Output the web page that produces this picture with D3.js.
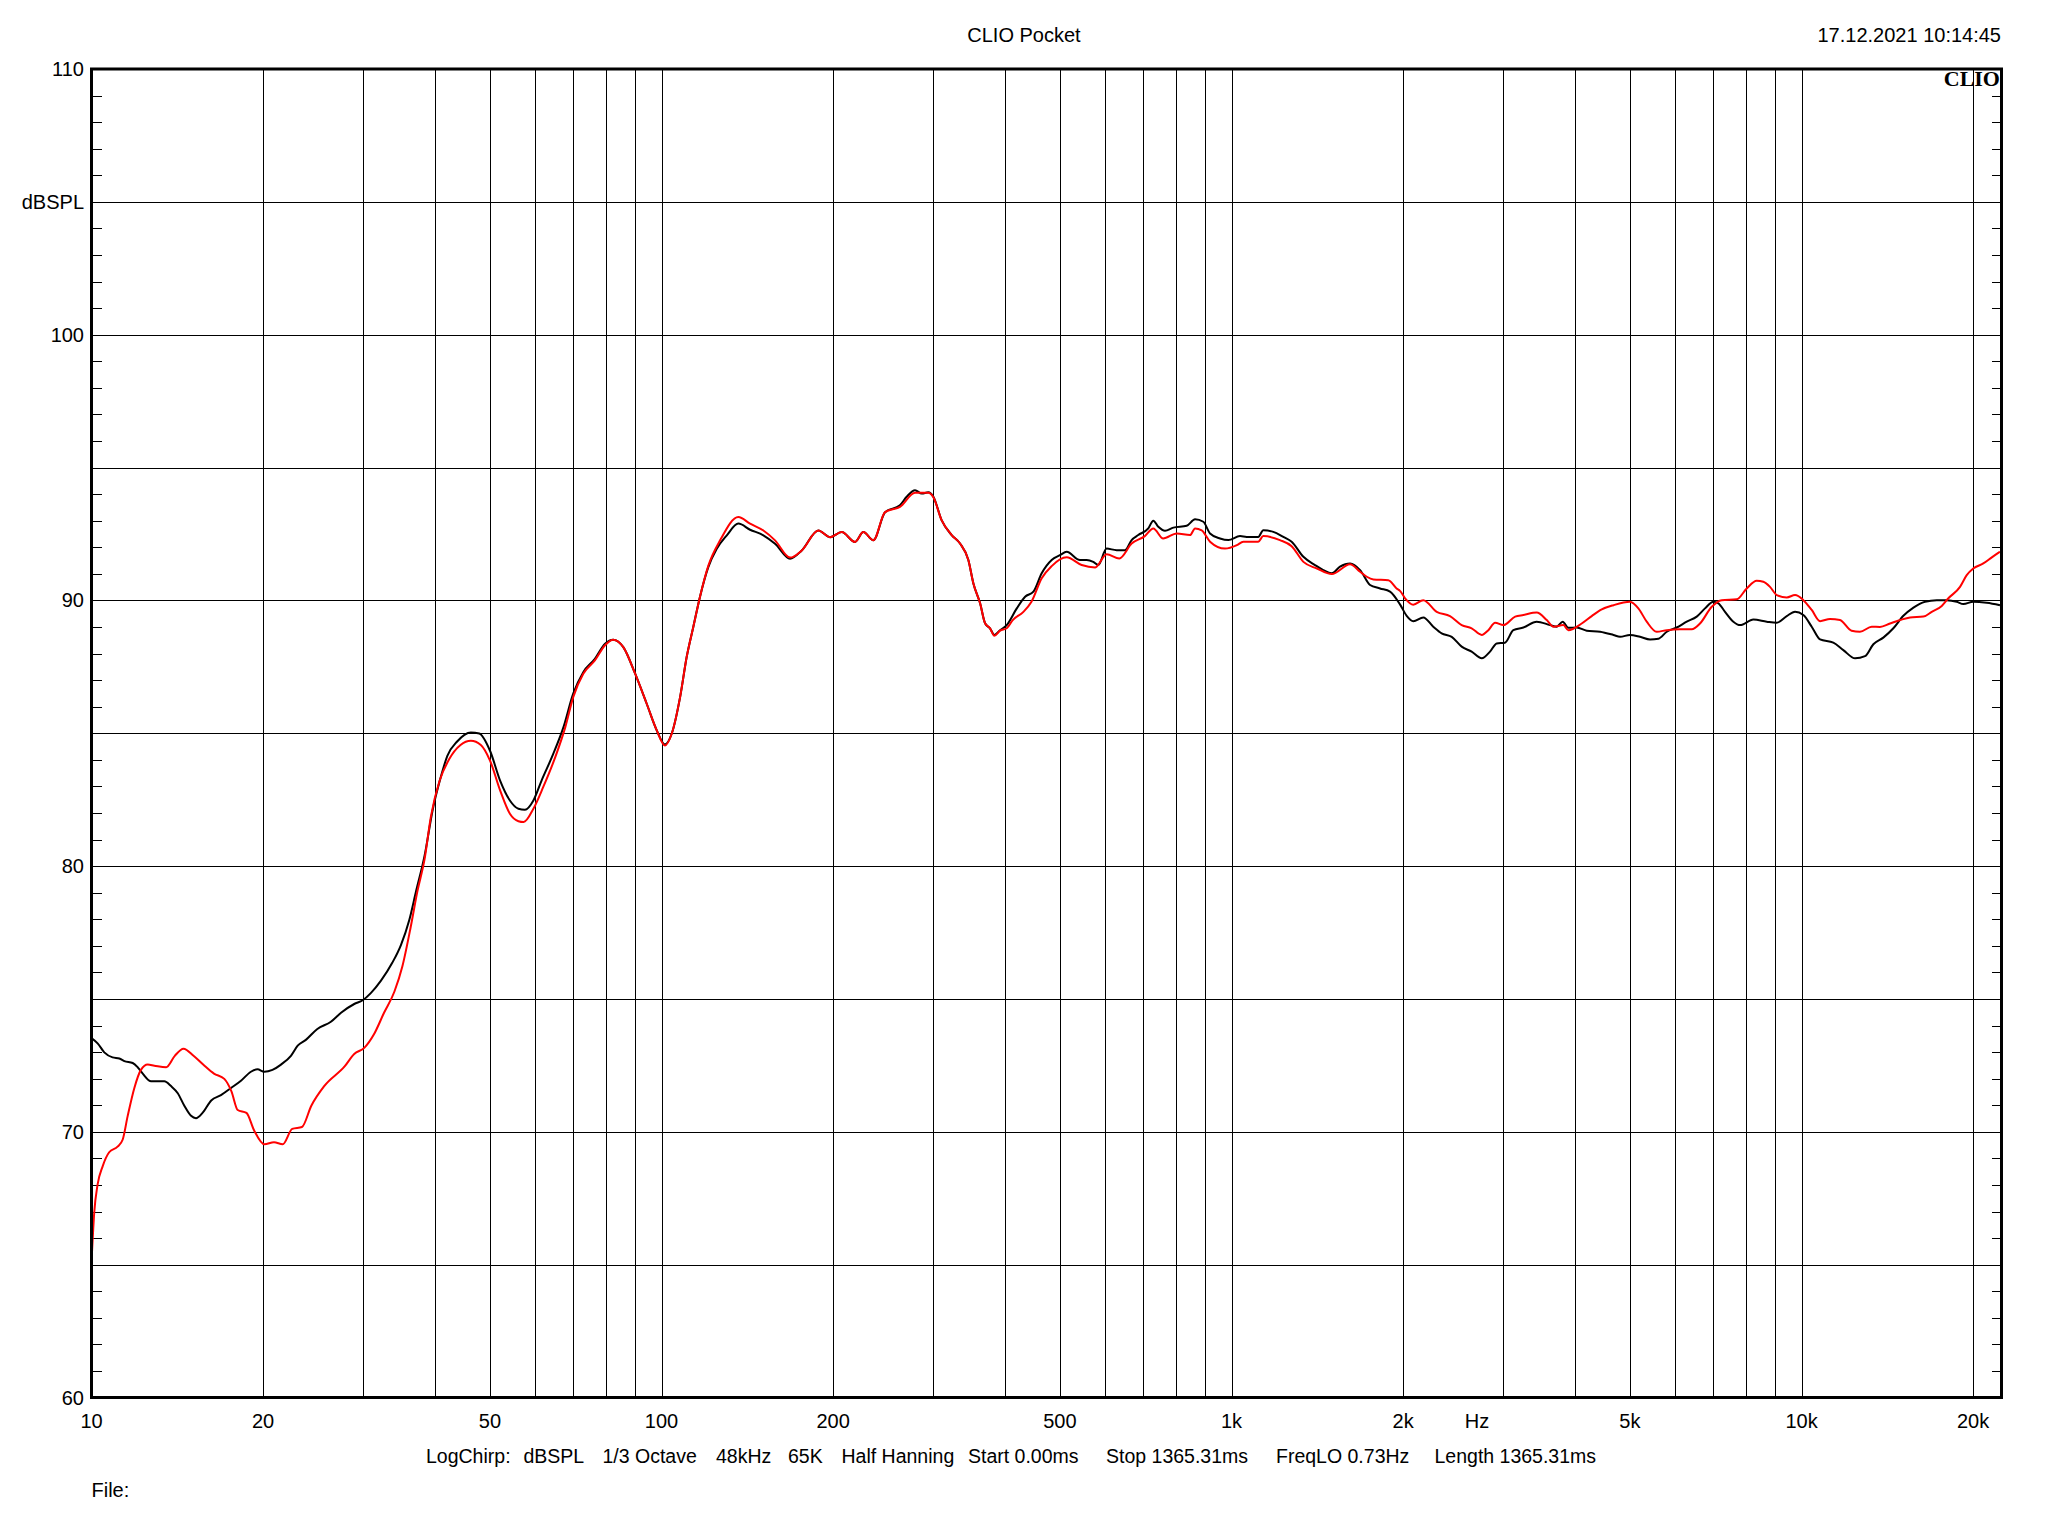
<!DOCTYPE html>
<html>
<head>
<meta charset="utf-8">
<script src="https://cdn.jsdelivr.net/npm/d3@7"></script>
<style>
  html, body { margin: 0; padding: 0; background: #fff; }
  svg { display: block; }
  text { font-family: Arial, "Liberation Sans", sans-serif; fill: #000; }
</style>
</head>
<body>
<svg id="chart" width="2048" height="1536"></svg>
<script>
// ---------------- DATA ----------------
const blackFreq = [10.0,10.25,10.53,10.89,11.19,11.42,11.81,12.05,12.3,12.72,13.42,13.79,14.17,14.55,14.95,15.25,15.66,16.22,16.87,17.57,18.29,19.04,19.55,20.1,20.77,21.5,22.38,23.0,23.8,24.9,26.3,27.4,28.9,29.9,30.9,32.2,33.7,34.9,36.1,37.1,38.4,39.7,41.0,42.1,43.8,46.3,47.9,50.0,52.1,54.2,56.1,57.6,59.6,61.6,64.6,67.3,70.0,72.9,76.4,79.6,82.3,85.7,89.9,94.2,98.1,101.4,104.2,107.8,110.7,113.7,116.8,120.8,125.0,130.2,136.4,143.0,150.9,158.2,168.1,176.2,188.4,197.5,207.1,218.5,226.0,235.3,246.7,262.0,269.2,278.5,286.1,293.8,299.9,310.0,322.9,334.0,345.4,352.5,362.2,369.5,377.0,383.6,392.6,403.3,420.0,434.4,449.2,464.5,483.6,500.1,513.8,542.2,557.0,572.0,583.7,603.8,628.7,650.3,668.0,686.1,714.5,729.1,744.0,764.4,790.5,834.4,863.0,892.4,916.9,954.6,987.2,1035,1063,1114,1137,1184,1233,1275,1337,1401,1449,1499,1550,1614,1681,1750,1822,1897,1975,2029,2084,2170,2259,2337,2434,2534,2638,2748,2841,2919,3018,3122,3251,3431,3622,3720,3811,3899,4033,4199,4432,4677,4805,5001,5208,5424,5610,5803,6040,6290,6549,6771,7004,7147,7342,7593,7801,8233,8690,9048,9421,9741,10074,10420,10777,11370,11840,12416,12924,13366,13915,14491,15090,15716,16470,17270,17980,18720,19230,20010,21130,22290];
const blackDb = [73.53,73.33,72.99,72.8,72.76,72.66,72.59,72.43,72.19,71.9,71.9,71.72,71.45,70.98,70.6,70.51,70.71,71.18,71.38,71.65,71.92,72.26,72.35,72.26,72.33,72.53,72.86,73.24,73.47,73.87,74.14,74.48,74.81,74.95,75.22,75.69,76.36,77.03,77.97,79.05,80.39,82.14,83.35,84.15,84.69,85.03,84.99,84.35,83.22,82.47,82.16,82.12,82.47,83.22,84.23,85.23,86.49,87.3,87.8,88.37,88.52,88.24,87.24,86.11,85.11,84.58,84.98,86.36,87.87,89.0,90.13,91.25,91.94,92.45,92.89,92.66,92.45,92.13,91.57,91.88,92.63,92.38,92.57,92.2,92.57,92.26,93.32,93.58,93.9,94.15,94.02,94.07,93.9,93.02,92.46,92.14,91.52,90.64,89.89,89.14,88.95,88.7,88.88,89.07,89.7,90.14,90.33,91.02,91.52,91.7,91.83,91.52,91.52,91.45,91.33,91.95,91.89,91.89,92.27,92.46,92.71,93.0,92.77,92.62,92.74,92.81,93.05,92.96,92.52,92.33,92.27,92.42,92.39,92.39,92.64,92.58,92.39,92.21,91.64,91.33,91.14,91.02,91.27,91.39,91.14,90.58,90.45,90.33,89.85,89.42,89.22,89.36,89.01,88.76,88.63,88.26,88.07,87.82,88.07,88.38,88.41,88.88,88.98,89.2,89.07,89.01,89.2,88.97,88.98,88.86,88.82,88.7,88.63,88.7,88.63,88.53,88.56,88.82,88.98,89.2,89.39,89.7,89.95,89.89,89.57,89.2,89.07,89.28,89.2,89.16,89.41,89.57,89.45,89.01,88.53,88.41,88.13,87.82,87.9,88.35,88.6,88.95,89.42,89.73,89.95,90.01,90.01,89.95,89.86,89.95,89.91,89.82];

const redFreq = [10.02,10.11,10.25,10.46,10.74,11.11,11.34,11.57,11.89,12.21,12.55,12.89,13.52,14.0,14.5,15.1,15.7,16.4,17.1,17.6,18.05,18.7,19.3,20.1,20.9,21.65,22.5,23.4,24.3,25.6,27.8,28.9,30.1,31.3,32.6,34.0,35.1,36.3,37.3,38.4,39.4,40.8,42.4,44.4,46.3,48.2,50.0,52.1,54.2,56.1,57.3,59.6,62.0,65.1,67.8,70.0,72.9,76.4,79.6,82.3,85.7,89.9,94.2,98.1,101.4,104.2,107.8,110.7,113.7,116.8,120.8,126.7,136.4,143.0,150.9,158.2,168.1,176.2,188.4,197.5,207.1,218.5,226.0,235.3,246.7,262.0,278.5,293.8,299.9,310.0,322.9,334.0,345.4,352.5,362.2,369.5,377.0,383.6,392.6,403.3,413.2,431.4,445.7,464.5,483.6,513.8,545.9,576.5,603.8,635.5,668.0,704.6,729.1,758.7,801.6,845.8,863.0,886.5,916.9,974.2,1022,1049,1114,1137,1216,1275,1337,1412,1499,1614,1681,1727,1774,1884,1948,1975,2016,2084,2170,2291,2417,2534,2638,2748,2822,2900,2999,3145,3251,3431,3573,3670,3821,3899,4115,4285,4462,4677,5001,5173,5351,5570,5803,6121,6418,6636,6958,7244,7696,8014,8344,8570,8805,9048,9421,9741,10074,10420,10777,11220,11680,12240,12664,13280,13730,14300,14890,15500,16360,16920,17620,18100,18970,19490,20010,20840,21570,22290];
const redDb = [65.47,66.95,68.02,68.7,69.23,69.44,69.7,70.58,71.65,72.33,72.53,72.49,72.43,72.86,73.13,72.86,72.53,72.19,71.99,71.52,70.82,70.71,70.04,69.53,69.61,69.53,70.11,70.18,70.98,71.72,72.46,72.93,73.16,73.67,74.48,75.28,76.22,77.7,79.05,80.26,81.87,83.21,84.02,84.56,84.72,84.56,83.98,82.85,81.97,81.69,81.66,82.16,82.97,84.1,85.23,86.36,87.24,87.74,88.31,88.52,88.24,87.24,86.11,85.11,84.54,84.98,86.36,87.87,89.0,90.13,91.3,92.26,93.14,92.89,92.63,92.26,91.61,91.88,92.63,92.38,92.57,92.2,92.57,92.26,93.32,93.52,94.05,94.05,93.88,93.02,92.46,92.14,91.52,90.64,89.89,89.14,88.95,88.67,88.86,88.95,89.26,89.57,89.95,90.83,91.29,91.62,91.33,91.24,91.74,91.58,92.14,92.42,92.71,92.33,92.52,92.46,92.71,92.64,92.21,91.95,92.08,92.21,92.21,92.42,92.27,92.04,91.45,91.2,90.99,91.36,91.08,90.89,90.79,90.76,90.45,90.36,90.08,89.84,90.01,89.57,89.41,89.07,88.95,88.7,88.88,89.16,89.07,89.39,89.45,89.54,89.26,89.01,89.07,88.88,89.13,89.41,89.66,89.82,89.95,89.7,89.2,88.82,88.88,88.91,88.91,89.13,89.76,90.01,90.04,90.45,90.74,90.7,90.51,90.2,90.11,90.2,90.01,89.64,89.22,89.3,89.26,88.86,88.82,89.01,89.0,89.13,89.26,89.36,89.39,89.57,89.79,90.08,90.51,90.95,91.2,91.39,91.62,91.83];

const freqGrid = [20,30,40,50,60,70,80,90,100,200,300,400,500,600,700,800,900,1000,2000,3000,4000,5000,6000,7000,8000,9000,10000,20000];
const xTickValues = [10,20,50,100,200,500,1000,2000,5000,10000,20000];
const xTickLabels = ["10","20","50","100","200","500","1k","2k","5k","10k","20k"];
const dbGrid = [65,70,75,80,85,90,95,100,105];
const yTickValues = [60,70,80,90,100,110];
const yTickLabels = ["60","70","80","90","100","110"];
const yUnitValue = 105;
const yUnitLabel = "dBSPL";
const title = "CLIO Pocket";
const timestamp = "17.12.2021 10:14:45";
const infoItems = ["LogChirp:","dBSPL","1/3 Octave","48kHz","65K","Half Hanning","Start 0.00ms","Stop 1365.31ms","FreqLO 0.73Hz","Length 1365.31ms"];
const infoX = [426,523.5,602.5,716,788,841.5,968,1106,1276,1434.5];
const fileLabel = "File:";
const xUnitLabel = "Hz";

// ---------------- LAYOUT ----------------
const L = 91.5, R = 2001.5, T = 69, B = 1397.5;
const svg = d3.select("#chart");
const x = d3.scaleLog().domain([10, 22430]).range([L, R]);
const y = d3.scaleLinear().domain([60, 110]).range([B, T]);
const crisp = v => Math.round(v) + 0.5;

const g = svg.append("g");

// vertical grid
g.append("g").selectAll("line").data(freqGrid).join("line")
  .attr("x1", d => crisp(x(d))).attr("x2", d => crisp(x(d)))
  .attr("y1", T).attr("y2", B)
  .attr("stroke", "#000").attr("stroke-width", 1).attr("shape-rendering", "crispEdges");

// horizontal grid
g.append("g").selectAll("line").data(dbGrid).join("line")
  .attr("x1", L).attr("x2", R)
  .attr("y1", d => crisp(y(d))).attr("y2", d => crisp(y(d)))
  .attr("stroke", "#000").attr("stroke-width", 1).attr("shape-rendering", "crispEdges");

// minor ticks every dB (left and right)
const minor = d3.range(61, 110).filter(v => v % 5 !== 0);
g.append("g").selectAll("line").data(minor).join("line")
  .attr("x1", L).attr("x2", L + 10)
  .attr("y1", d => crisp(y(d))).attr("y2", d => crisp(y(d)))
  .attr("stroke", "#000").attr("stroke-width", 1).attr("shape-rendering", "crispEdges");
g.append("g").selectAll("line").data(minor).join("line")
  .attr("x1", R - 10).attr("x2", R)
  .attr("y1", d => crisp(y(d))).attr("y2", d => crisp(y(d)))
  .attr("stroke", "#000").attr("stroke-width", 1).attr("shape-rendering", "crispEdges");

// curves
const line = d3.line().x(d => x(d[0])).y(d => y(d[1])).curve(d3.curveMonotoneX);
const blackData = blackFreq.map((f, i) => [f, blackDb[i]]);
const redData = redFreq.map((f, i) => [f, redDb[i]]);

const clip = svg.append("defs").append("clipPath").attr("id", "plotclip");
clip.append("rect").attr("x", L).attr("y", T).attr("width", R - L).attr("height", B - T);

const curves = g.append("g").attr("clip-path", "url(#plotclip)");
curves.append("path").datum(blackData).attr("d", line)
  .attr("fill", "none").attr("stroke", "#000").attr("stroke-width", 2).attr("stroke-linejoin", "round");
curves.append("path").datum(redData).attr("d", line)
  .attr("fill", "none").attr("stroke", "#ff0000").attr("stroke-width", 2).attr("stroke-linejoin", "round");

// frame
g.append("rect").attr("x", L).attr("y", T).attr("width", R - L).attr("height", B - T)
  .attr("fill", "none").attr("stroke", "#000").attr("stroke-width", 3);

// CLIO logo
svg.append("text").attr("x", 2000).attr("y", 86).attr("text-anchor", "end")
  .style("font-family", "'Liberation Serif', 'DejaVu Serif', serif")
  .style("font-weight", "bold").style("font-size", "22px").text("CLIO");

// y labels
svg.append("g").selectAll("text").data(yTickValues).join("text")
  .attr("x", 84).attr("y", d => y(d) + 7).attr("text-anchor", "end")
  .style("font-size", "20px").text((d, i) => yTickLabels[i]);
svg.append("text").attr("x", 84).attr("y", y(yUnitValue) + 7).attr("text-anchor", "end")
  .style("font-size", "20px").text(yUnitLabel);

// x labels
svg.append("g").selectAll("text").data(xTickValues).join("text")
  .attr("x", d => x(d)).attr("y", 1428).attr("text-anchor", "middle")
  .style("font-size", "20px").text((d, i) => xTickLabels[i]);
svg.append("text").attr("x", 1477).attr("y", 1428).attr("text-anchor", "middle")
  .style("font-size", "20px").text(xUnitLabel);

// title and timestamp
svg.append("text").attr("x", 1024).attr("y", 41.5).attr("text-anchor", "middle")
  .style("font-size", "20px").text(title);
svg.append("text").attr("x", 2001).attr("y", 41.5).attr("text-anchor", "end")
  .style("font-size", "20px").text(timestamp);

// info line
svg.append("g").selectAll("text").data(infoItems).join("text")
  .attr("x", (d, i) => infoX[i]).attr("y", 1463)
  .style("font-size", "19.5px").text(d => d);

svg.append("text").attr("x", 91.5).attr("y", 1496.5)
  .style("font-size", "20px").text(fileLabel);
</script>
</body>
</html>
